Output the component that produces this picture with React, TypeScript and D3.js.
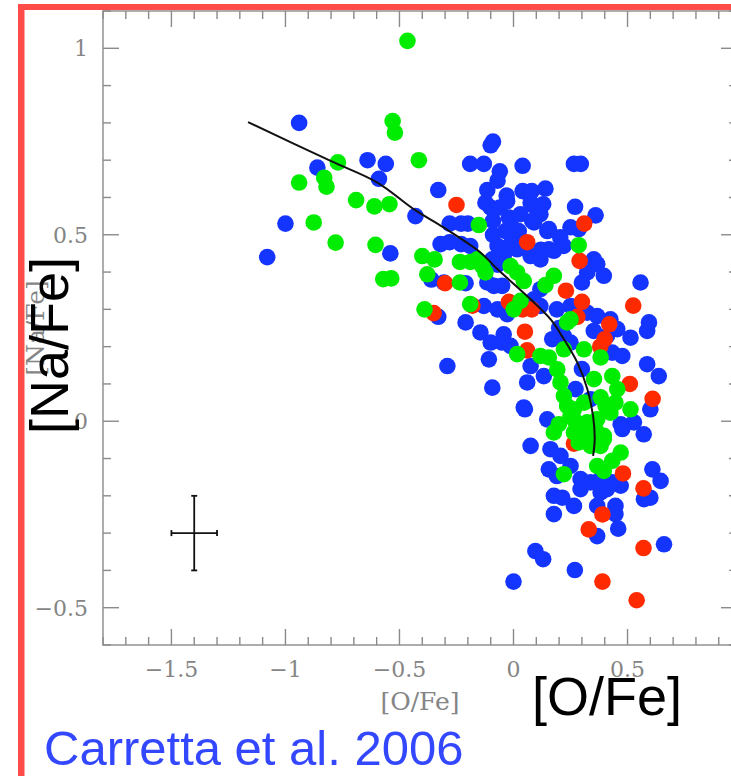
import React from "react";
import * as d3 from "d3";

// ---------- data ----------
const xMajorTicks = [-1.5, -1, -0.5, 0, 0.5];
const yMajorTicks = [-0.5, 0, 0.5, 1];
const xDomain = [-1.8, 0.98];
const yDomain = [-0.6, 1.1];

const bluePoints: [number, number][] = [
  [-0.94, 0.8], [-0.86, 0.68], [-1.0, 0.53], [-1.08, 0.44], [-0.64, 0.7], [-0.56, 0.69], [-0.59, 0.65],
  [-0.33, 0.62], [-0.43, 0.55], [-0.54, 0.45], [-0.19, 0.69], [-0.13, 0.69], [-0.28, 0.53], [-0.23, 0.53],
  [-0.2, 0.53], [-0.32, 0.475], [-0.28, 0.48], [-0.23, 0.475], [-0.19, 0.47], [-0.36, 0.38], [-0.21, 0.37],
  [-0.33, 0.28], [-0.21, 0.265], [-0.09, 0.75], [-0.1, 0.74], [-0.06, 0.67], [0.04, 0.685], [0.265, 0.69],
  [0.295, 0.69], [-0.115, 0.62], [-0.07, 0.645], [-0.03, 0.605], [0.04, 0.617], [0.08, 0.617], [0.14, 0.624],
  [-0.1, 0.573], [-0.06, 0.573], [0.09, 0.577], [0.13, 0.582], [0.27, 0.575], [0.36, 0.552], [0.09, 0.533],
  [-0.02, 0.546], [-0.09, 0.537], [-0.09, 0.5], [-0.035, 0.51], [0.0, 0.483], [0.155, 0.515], [0.205, 0.493],
  [0.25, 0.52], [0.12, 0.46], [0.177, 0.457], [0.352, 0.434], [-0.043, 0.461], [-0.123, 0.586], [-0.028, 0.59],
  [0.075, 0.586], [-0.006, 0.52], [0.023, 0.51], [0.082, 0.537], [0.286, 0.515], [0.148, 0.51], [0.22, 0.47],
  [-0.07, 0.47], [-0.013, 0.475], [0.155, 0.461], [0.367, 0.421], [0.396, 0.39], [0.323, 0.399], [0.3, 0.372],
  [-0.093, 0.434], [-0.043, 0.443], [0.016, 0.461], [0.075, 0.443], [0.118, 0.434], [-0.07, 0.42], [0.118, 0.354],
  [0.089, 0.327], [-0.305, 0.372], [-0.115, 0.372], [-0.086, 0.363], [-0.05, 0.363], [-0.145, 0.238], [-0.1, 0.211],
  [-0.043, 0.233], [-0.13, 0.309], [-0.07, 0.3], [-0.028, 0.287], [0.118, 0.309], [0.19, 0.3], [0.25, 0.309],
  [0.323, 0.291], [0.367, 0.282], [0.557, 0.372], [0.594, 0.265], [0.586, 0.242], [0.513, 0.224], [0.425, 0.273],
  [0.455, 0.247], [0.41, 0.229], [0.352, 0.242], [0.433, 0.184], [0.477, 0.175], [0.586, 0.153], [0.637, 0.121],
  [0.6, 0.032], [0.528, -0.003], [0.571, -0.035], [0.47, -0.008], [0.25, 0.211], [0.22, 0.229], [0.075, 0.148],
  [0.133, 0.121], [0.148, 0.005], [0.045, 0.037], [-0.093, 0.09], [0.06, 0.104], [-0.29, 0.148], [-0.108, 0.166],
  [-0.05, 0.211], [-0.013, 0.202], [0.075, -0.066], [0.05, 0.032], [0.477, -0.021], [0.162, -0.075], [0.206, -0.093],
  [0.155, -0.129], [0.19, -0.147], [0.25, -0.12], [0.294, -0.155], [0.338, -0.164], [0.382, -0.155], [0.433, -0.164],
  [0.47, -0.173], [0.609, -0.129], [0.645, -0.16], [0.6, -0.205], [0.572, -0.209], [0.177, -0.2], [0.214, -0.205],
  [0.265, -0.227], [0.177, -0.249], [0.294, -0.182], [0.382, -0.191], [0.41, -0.182], [0.367, -0.227], [0.447, -0.227],
  [0.447, -0.249], [0.367, -0.308], [0.459, -0.288], [0.66, -0.33], [0.096, -0.348], [0.13, -0.37], [0.269, -0.399],
  [0.0, -0.43], [0.272, 0.086], [0.338, 0.059], [0.3, 0.14], [0.2, 0.25], [0.17, 0.22], [0.03, 0.555], [0.118, 0.555],
];

const redPoints: [number, number][] = [
  [-0.25, 0.58], [-0.3, 0.37], [-0.35, 0.29], [0.06, 0.48], [0.31, 0.53], [0.29, 0.43], [0.23, 0.35], [-0.02, 0.32],
  [0.04, 0.3], [0.08, 0.3], [0.3, 0.32], [0.28, 0.28], [0.42, 0.26], [0.525, 0.31], [0.4, 0.22], [0.38, 0.2],
  [0.51, 0.1], [0.61, 0.06], [0.06, 0.19], [0.05, 0.24], [0.265, -0.06], [0.48, -0.14], [0.57, -0.18], [0.39, -0.25],
  [0.33, -0.29], [0.57, -0.34], [0.39, -0.43], [0.54, -0.48], [-0.18, 0.31],
];

const greenPoints: [number, number][] = [
  [-0.465, 1.02], [-0.53, 0.805], [-0.52, 0.774], [-0.94, 0.64], [-0.77, 0.694], [-0.83, 0.653], [-0.82, 0.629],
  [-0.876, 0.533], [-0.78, 0.479], [-0.69, 0.593], [-0.61, 0.576], [-0.544, 0.582], [-0.415, 0.7], [-0.605, 0.473],
  [-0.571, 0.381], [-0.536, 0.383], [-0.4, 0.443], [-0.346, 0.434], [-0.378, 0.394], [-0.235, 0.427], [-0.189, 0.427],
  [-0.159, 0.434], [-0.235, 0.372], [-0.39, 0.3], [-0.19, 0.314], [-0.152, 0.526], [0.286, 0.472], [-0.137, 0.416],
  [-0.123, 0.399], [-0.013, 0.416], [0.016, 0.399], [0.045, 0.376], [0.177, 0.39], [0.14, 0.365], [0.001, 0.3],
  [0.031, 0.323], [0.25, 0.273], [0.235, 0.265], [0.382, 0.171], [0.513, 0.032], [0.433, 0.121], [0.455, 0.086],
  [0.447, 0.05], [0.404, 0.041], [0.367, 0.005], [0.396, -0.039], [0.309, 0.193], [0.353, 0.113], [0.382, 0.064],
  [0.118, 0.175], [0.155, 0.171], [0.192, 0.139], [0.221, 0.193], [0.206, 0.104], [0.221, 0.068], [0.235, 0.041],
  [0.25, 0.014], [0.265, -0.03], [0.286, -0.057], [0.323, -0.039], [0.177, -0.03], [0.199, -0.008], [0.016, 0.18],
  [0.265, 0.032], [0.309, 0.05], [0.425, 0.023], [0.279, -0.021], [0.367, -0.03], [0.396, -0.048], [0.338, -0.066],
  [0.382, -0.066], [0.265, 0.005], [0.323, -0.003], [0.47, -0.084], [0.433, -0.106], [0.367, -0.12], [0.396, -0.133],
  [0.221, -0.142],
];

const modelCurve: [number, number][] = [
  [-1.164, 0.802], [-0.802, 0.698], [-0.597, 0.64], [-0.436, 0.568], [-0.305, 0.519], [-0.144, 0.452],
  [-0.071, 0.408], [0.075, 0.327], [0.163, 0.273], [0.221, 0.22], [0.28, 0.157], [0.324, 0.086],
  [0.349, 0.014], [0.356, -0.048], [0.349, -0.093],
];

// error bar: centre and half-widths
const errorBar = { x: -1.4, y: -0.3, dx: 0.1, dy: 0.1 };

// ---------- layout ----------
const W = 731;
const H = 776;
const PL = 103, PR = 737, PT = 11, PB = 645;

const x = d3.scaleLinear().domain(xDomain).range([PL, PR]);
const y = d3.scaleLinear().domain(yDomain).range([PB, PT]);

const fmt = (v: number) => String(v).replace("-", "\u2212");

const xMinor = d3.range(-18, 10).map((i) => i / 10);
const yMinor = d3.range(-6, 12).map((i) => i / 10);
const isMajor = (v: number) => Math.abs(v * 2 - Math.round(v * 2)) < 1e-6;

const AXIS = "#8a8a8a";
const R = 8.3;

export default function App() {
  React.useEffect(() => {
    document.body.style.margin = "0";
  }, []);

  const line = d3
    .line<[number, number]>()
    .x((d) => x(d[0]))
    .y((d) => y(d[1]))
    .curve(d3.curveCatmullRom.alpha(0.5));

  const dot = (pts: [number, number][], color: string, key: string) =>
    pts.map((d, i) => <circle key={key + i} cx={x(d[0])} cy={y(d[1])} r={R} fill={color} />);

  return (
    <svg width={W} height={H} style={{ position: "absolute", left: 0, top: 0, display: "block", background: "#fff" }}>
      <rect x={0} y={0} width={W} height={H} fill="#fff" />
      {/* ticks */}
      <g stroke={AXIS} strokeWidth={1.4}>
        {xMinor.map((v) => {
          const L = isMajor(v) ? 16 : 8;
          return (
            <g key={"xt" + v}>
              <line x1={x(v)} x2={x(v)} y1={PB} y2={PB - L} />
              <line x1={x(v)} x2={x(v)} y1={PT} y2={PT + L} />
            </g>
          );
        })}
        {yMinor.map((v) => {
          const L = isMajor(v) ? 16 : 8;
          return (
            <g key={"yt" + v}>
              <line x1={PL} x2={PL + L} y1={y(v)} y2={y(v)} />
              <line x1={PR} x2={PR - L} y1={y(v)} y2={y(v)} />
            </g>
          );
        })}
        <rect x={PL} y={PT} width={PR - PL} height={PB - PT} fill="none" />
      </g>
      {/* tick labels */}
      <g fill="#858585" fontFamily="'DejaVu Serif', serif" fontSize={22}>
        {xMajorTicks.map((v) => (
          <text key={"xl" + v} x={x(v)} y={677} textAnchor="middle">
            {fmt(v)}
          </text>
        ))}
        {yMajorTicks.map((v) => (
          <text key={"yl" + v} x={88} y={y(v) + 8} textAnchor="end">
            {fmt(v)}
          </text>
        ))}
        <text x={(PL + PR) / 2} y={710} textAnchor="middle" fontSize={25}>
          [O/Fe]
        </text>
        <text transform={`translate(44,${(PT + PB) / 2}) rotate(-90)`} textAnchor="middle" fontSize={25}>
          [Na/Fe]
        </text>
      </g>
      {/* error bar */}
      <g stroke="#111" strokeWidth={1.8}>
        <line x1={x(errorBar.x - errorBar.dx)} x2={x(errorBar.x + errorBar.dx)} y1={y(errorBar.y)} y2={y(errorBar.y)} />
        <line x1={x(errorBar.x)} x2={x(errorBar.x)} y1={y(errorBar.y - errorBar.dy)} y2={y(errorBar.y + errorBar.dy)} />
        <line x1={x(errorBar.x - errorBar.dx)} x2={x(errorBar.x - errorBar.dx)} y1={y(errorBar.y) - 3} y2={y(errorBar.y) + 3} />
        <line x1={x(errorBar.x + errorBar.dx)} x2={x(errorBar.x + errorBar.dx)} y1={y(errorBar.y) - 3} y2={y(errorBar.y) + 3} />
        <line x1={x(errorBar.x) - 3} x2={x(errorBar.x) + 3} y1={y(errorBar.y - errorBar.dy)} y2={y(errorBar.y - errorBar.dy)} />
        <line x1={x(errorBar.x) - 3} x2={x(errorBar.x) + 3} y1={y(errorBar.y + errorBar.dy)} y2={y(errorBar.y + errorBar.dy)} />
      </g>
      {/* points */}
      <g>{dot(bluePoints, "#1434ff", "b")}</g>
      <g>{dot(redPoints, "#ff2a00", "r")}</g>
      <g>{dot(greenPoints, "#00ec00", "g")}</g>
      {/* model curve */}
      <path d={line(modelCurve) || ""} fill="none" stroke="#111" strokeWidth={2} />
      {/* big overlay labels */}
      <g fontFamily="'Liberation Sans', Arial, sans-serif" fill="#000">
        <text x={532} y={715} fontSize={54}>
          [O/Fe]
        </text>
        <text transform={`translate(68,345.5) rotate(-90)`} textAnchor="middle" fontSize={54}>
          [Na/Fe]
        </text>
      </g>
      <text x={44} y={765} fontFamily="'Liberation Sans', Arial, sans-serif" fontSize={49} fill="#3347ff">
        Carretta et al. 2006
      </text>
      {/* red frame */}
      <rect x={18} y={4} width={W - 18} height={6} fill="#ff4c48" />
      <rect x={18} y={4} width={6.5} height={H - 4} fill="#ff4c48" />
    </svg>
  );
}
